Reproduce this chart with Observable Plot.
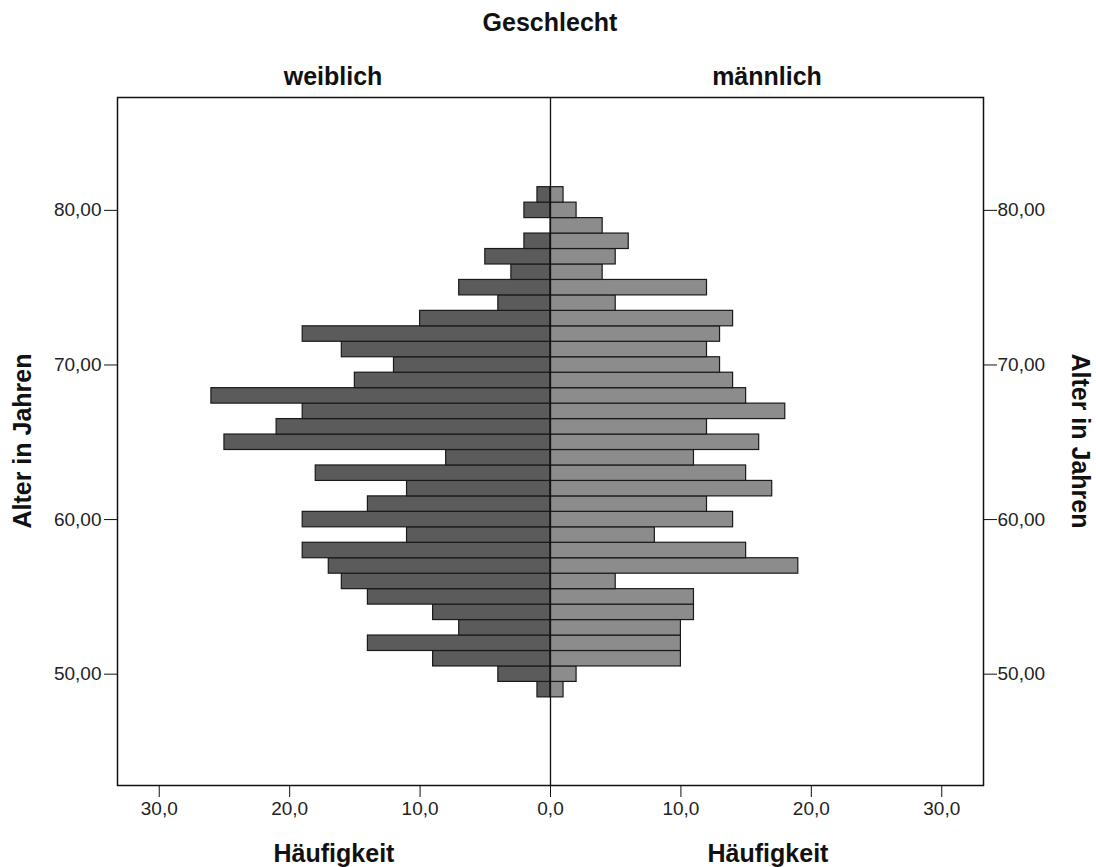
<!DOCTYPE html>
<html>
<head>
<meta charset="utf-8">
<script src="https://cdn.jsdelivr.net/npm/d3@7"></script>
<script src="https://cdn.jsdelivr.net/npm/@observablehq/plot@0.6"></script>
<style>
  html, body { margin: 0; padding: 0; background: #fff; }
  #wrap { position: relative; width: 1096px; height: 867px; overflow: hidden; font-family: "Liberation Sans", Arial, sans-serif; color: #111; }
  .lbl { position: absolute; transform: translate(-50%, -50%); font-weight: bold; font-size: 25px; line-height: 1; white-space: nowrap; }
  .rot-l { transform: translate(-50%, -50%) rotate(-90deg); }
  .rot-r { transform: translate(-50%, -50%) rotate(90deg); }
  svg { display: block; }
</style>
</head>
<body>
<div id="wrap"></div>
<script>
// Ages (bins of 1 year)
const ages = [49,50,51,52,53,54,55,56,57,58,59,60,61,62,63,64,65,66,67,68,69,70,71,72,73,74,75,76,77,78,79,80,81];
// Häufigkeit weiblich
const weiblich = [1,4,9,14,7,9,14,16,17,19,11,19,14,11,18,8,25,21,19,26,15,12,16,19,10,4,7,3,5,2,0,2,1];
// Häufigkeit männlich
const maennlich = [1,2,10,10,10,11,11,5,19,15,8,14,12,17,15,11,16,12,18,15,14,13,12,13,14,5,12,4,5,6,4,2,1];
const xTicks = [-30,-20,-10,0,10,20,30];
const yTicks = [50,60,70,80];

const rows = [];
ages.forEach((a, i) => {
  if (weiblich[i] > 0) rows.push({age: a, sex: "weiblich", v: -weiblich[i]});
  if (maennlich[i] > 0) rows.push({age: a, sex: "männlich", v: maennlich[i]});
});

const fmtX = d => Math.abs(d).toFixed(1).replace(".", ",");
const fmtY = d => d.toFixed(2).replace(".", ",");

const chart = Plot.plot({
  width: 1096,
  height: 867,
  marginLeft: 117,
  marginRight: 113,
  marginTop: 97,
  marginBottom: 82,
  style: {fontFamily: "'Liberation Sans', Arial, sans-serif", fontSize: "19px", color: "#222", background: "#fff"},
  x: {domain: [-33.2, 33.2]},
  y: {domain: [42.8, 87.3]},
  color: {domain: ["weiblich", "männlich"], range: ["#5b5b5b", "#8c8c8c"]},
  marks: [
    Plot.rect(rows, {
      x1: 0, x2: "v",
      y1: d => d.age - 0.5, y2: d => d.age + 0.5,
      fill: "sex", stroke: "#1a1a1a", strokeWidth: 1.2
    }),
    Plot.ruleX([0], {stroke: "#111", strokeWidth: 1.3}),
    Plot.frame({stroke: "#111", strokeWidth: 1.5}),
    Plot.axisX({ticks: xTicks, tickFormat: fmtX, tickSize: 12, tickPadding: 4, fontSize: 19, label: null, stroke: "#111"}),
    Plot.axisY({anchor: "left", ticks: yTicks, tickFormat: fmtY, tickSize: 13, tickPadding: 3, fontSize: 19, label: null, stroke: "#111"}),
    Plot.axisY({anchor: "right", ticks: yTicks, tickFormat: fmtY, tickSize: 13, tickPadding: 1, fontSize: 19, label: null, stroke: "#111"})
  ]
});

const wrap = document.getElementById("wrap");
wrap.appendChild(chart);

function addLabel(text, x, y, cls) {
  const d = document.createElement("div");
  d.className = "lbl" + (cls ? " " + cls : "");
  d.textContent = text;
  d.style.left = x + "px";
  d.style.top = y + "px";
  wrap.appendChild(d);
}
addLabel("Geschlecht", 550, 22);
addLabel("weiblich", 333, 76);
addLabel("männlich", 767, 76);
addLabel("Häufigkeit", 334, 853);
addLabel("Häufigkeit", 768, 853);
addLabel("Alter in Jahren", 22, 441, "rot-l");
addLabel("Alter in Jahren", 1080, 441, "rot-r");
</script>
</body>
</html>
